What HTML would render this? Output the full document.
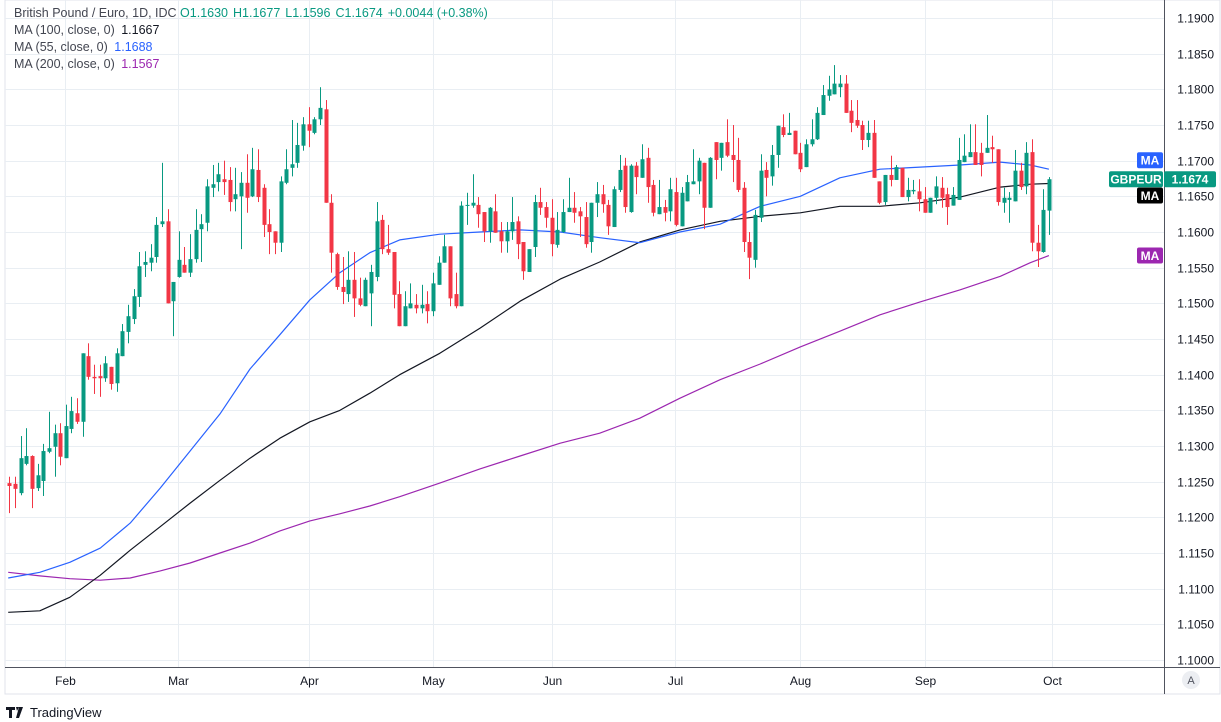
<!DOCTYPE html>
<html><head><meta charset="utf-8"><style>
html,body{margin:0;padding:0;background:#fff;width:1221px;height:722px;overflow:hidden;font-family:"Liberation Sans",sans-serif}
</style></head><body>
<svg id="chart" width="1221" height="722" xmlns="http://www.w3.org/2000/svg" font-family="Liberation Sans, sans-serif">
<rect x="5" y="0" width="1215" height="694" fill="#fff" stroke="#e0e3eb"/>
<g id="grid"></g>
<defs><clipPath id="plotClip"><rect x="5" y="0" width="1159" height="667"/></clipPath></defs>
<g id="mas" clip-path="url(#plotClip)"></g>
<g id="candles" clip-path="url(#plotClip)"></g>
<line x1="1164.5" y1="0" x2="1164.5" y2="694" stroke="#50535e"/>
<line x1="5" y1="667.5" x2="1220" y2="667.5" stroke="#50535e"/>
<g id="yaxis"></g>
<g id="xaxis"></g>
<g font-size="12.5">
<text x="14" y="17" fill="#434651">British Pound / Euro, 1D, IDC <tspan fill="#089981">O1.1630</tspan><tspan dx="5" fill="#089981">H1.1677</tspan><tspan dx="5" fill="#089981">L1.1596</tspan><tspan dx="5" fill="#089981">C1.1674</tspan><tspan dx="5" fill="#089981">+0.0044 (+0.38%)</tspan></text>
<text x="14" y="34" fill="#434651">MA (100, close, 0) <tspan dx="3" fill="#131722">1.1667</tspan></text>
<text x="14" y="51" fill="#434651">MA (55, close, 0) <tspan dx="3" fill="#2962ff">1.1688</tspan></text>
<text x="14" y="68" fill="#434651">MA (200, close, 0) <tspan dx="3" fill="#9c27b0">1.1567</tspan></text>
</g>
<g id="labels" font-size="12" font-weight="bold"></g>
<circle cx="1191" cy="680" r="9" fill="#eceef2"/>
<text x="1191" y="684" font-size="11" fill="#50535e" text-anchor="middle">A</text>
<g>
<path d="M6 707h9v3h-3v8h-3v-8h-3z M16 707h3l-2 4z M19 707h4l-4 11h-3z" fill="#131722"/>
<text x="30" y="717" font-size="13" fill="#131722">TradingView</text>
</g>
</svg>
<script>
const opens=[1.1248,1.1247,1.1234,1.1275,1.1286,1.1241,1.1251,1.1292,1.1299,1.1318,
1.1283,1.1324,1.1346,1.1334,1.1426,1.1397,1.1398,1.1395,1.1411,1.1388,
1.1426,1.1460,1.1478,1.1509,1.1554,1.1557,1.1565,1.1611,1.1615,1.1503,
1.1537,1.1554,1.1543,1.1562,1.1604,1.1613,1.1662,1.1670,1.1674,1.1673,
1.1646,1.1650,1.1669,1.1650,1.1687,1.1662,1.1611,1.1601,1.1585,1.1669,
1.1690,1.1697,1.1721,1.1751,1.1739,1.1758,1.1772,1.1641,1.1569,1.1523,
1.1513,1.1533,1.1507,1.1496,1.1514,1.1537,1.1617,1.1576,1.1572,1.1513,
1.1468,1.1493,1.1498,1.1493,1.1499,1.1489,1.1526,1.1557,1.1580,1.1513,
1.1496,1.1637,1.1637,1.1638,1.1628,1.1601,1.1629,1.1601,1.1587,1.1601,
1.1615,1.1586,1.1544,1.1579,1.1642,1.1635,1.1620,1.1582,1.1600,1.1628,
1.1634,1.1629,1.1621,1.1586,1.1641,1.1653,1.1638,1.1607,1.1659,1.1693,
1.1628,1.1693,1.1676,1.1704,1.1666,1.1625,1.1635,1.1629,1.1656,1.1608,
1.1643,1.1667,1.1671,1.1697,1.1634,1.1726,1.1704,1.1726,1.1708,1.1701,
1.1662,1.1586,1.1561,1.1620,1.1687,1.1678,1.1708,1.1747,1.1736,1.1742,
1.1711,1.1691,1.1723,1.1730,1.1764,1.1791,1.1793,1.1803,1.1808,1.1770,
1.1757,1.1750,1.1729,1.1739,1.1671,1.1642,1.1680,1.1673,1.1690,1.1649,
1.1657,1.1657,1.1646,1.1627,1.1648,1.1662,1.1653,1.1637,1.1645,1.1698,
1.1705,1.1712,1.1711,1.1711,1.1719,1.1716,1.1641,1.1645,1.1643,1.1686,
1.1664,1.1712,1.1585,1.1572,1.1630];
const highs=[1.1257,1.1257,1.1314,1.1325,1.1287,1.1275,1.1303,1.1348,1.1330,1.1332,
1.1358,1.1369,1.1367,1.1430,1.1444,1.1414,1.1414,1.1426,1.1411,1.1437,
1.1471,1.1498,1.1520,1.1572,1.1573,1.1583,1.1621,1.1697,1.1632,1.1530,
1.1601,1.1579,1.1597,1.1632,1.1625,1.1674,1.1694,1.1697,1.1700,1.1691,
1.1690,1.1684,1.1709,1.1718,1.1716,1.1667,1.1632,1.1601,1.1678,1.1716,
1.1757,1.1753,1.1761,1.1775,1.1761,1.1803,1.1785,1.1653,1.1571,1.1565,
1.1573,1.1572,1.1536,1.1536,1.1554,1.1642,1.1624,1.1610,1.1572,1.1531,
1.1517,1.1528,1.1513,1.1526,1.1517,1.1543,1.1566,1.1596,1.1580,1.1543,
1.1643,1.1655,1.1681,1.1649,1.1628,1.1635,1.1653,1.1614,1.1614,1.1649,
1.1622,1.1586,1.1576,1.1652,1.1662,1.1642,1.1646,1.1628,1.1646,1.1676,
1.1656,1.1635,1.1642,1.1641,1.1670,1.1666,1.1645,1.1664,1.1708,1.1704,
1.1695,1.1698,1.1723,1.1718,1.1673,1.1673,1.1645,1.1676,1.1676,1.1663,
1.1680,1.1716,1.1704,1.1697,1.1705,1.1726,1.1725,1.1758,1.1750,1.1732,
1.1670,1.1600,1.1631,1.1709,1.1698,1.1722,1.1749,1.1765,1.1767,1.1742,
1.1725,1.1730,1.1758,1.1775,1.1806,1.1819,1.1834,1.1820,1.1820,1.1785,
1.1785,1.1756,1.1756,1.1757,1.1671,1.1680,1.1707,1.1694,1.1690,1.1676,
1.1673,1.1674,1.1663,1.1648,1.1678,1.1677,1.1662,1.1663,1.1732,1.1737,
1.1751,1.1751,1.1725,1.1764,1.1735,1.1716,1.1662,1.1656,1.1715,1.1697,
1.1726,1.1730,1.1610,1.1660,1.1677];
const lows=[1.1206,1.1213,1.1231,1.1273,1.1213,1.1237,1.1230,1.1290,1.1257,1.1273,
1.1283,1.1318,1.1331,1.1313,1.1393,1.1373,1.1369,1.1390,1.1379,1.1376,
1.1426,1.1444,1.1471,1.1495,1.1537,1.1545,1.1557,1.1607,1.1500,1.1454,
1.1536,1.1543,1.1537,1.1557,1.1558,1.1601,1.1649,1.1657,1.1652,1.1629,
1.1629,1.1576,1.1627,1.1649,1.1642,1.1593,1.1569,1.1569,1.1572,1.1667,
1.1678,1.1690,1.1714,1.1719,1.1737,1.1750,1.1641,1.1543,1.1519,1.1499,
1.1502,1.1481,1.1496,1.1496,1.1468,1.1531,1.1569,1.1568,1.1493,1.1468,
1.1468,1.1493,1.1486,1.1486,1.1472,1.1482,1.1526,1.1557,1.1496,1.1493,
1.1496,1.1610,1.1634,1.1606,1.1586,1.1585,1.1599,1.1571,1.1571,1.1589,
1.1562,1.1533,1.1544,1.1565,1.1624,1.1606,1.1566,1.1578,1.1599,1.1628,
1.1613,1.1593,1.1578,1.1571,1.1621,1.1627,1.1596,1.1607,1.1656,1.1627,
1.1627,1.1653,1.1676,1.1641,1.1622,1.1625,1.1615,1.1615,1.1608,1.1608,
1.1643,1.1667,1.1653,1.1604,1.1634,1.1674,1.1686,1.1705,1.1670,1.1656,
1.1572,1.1534,1.1550,1.1614,1.1650,1.1665,1.1690,1.1733,1.1736,1.1709,
1.1684,1.1691,1.1720,1.1729,1.1764,1.1784,1.1793,1.1789,1.1767,1.1740,
1.1746,1.1715,1.1719,1.1676,1.1639,1.1638,1.1664,1.1673,1.1649,1.1643,
1.1653,1.1629,1.1627,1.1627,1.1639,1.1634,1.1610,1.1637,1.1645,1.1698,
1.1705,1.1694,1.1678,1.1711,1.1697,1.1637,1.1627,1.1613,1.1643,1.1659,
1.1653,1.1573,1.1551,1.1571,1.1596];
const closes=[1.1244,1.1240,1.1283,1.1286,1.1240,1.1259,1.1293,1.1297,1.1318,1.1285,
1.1328,1.1349,1.1334,1.1430,1.1397,1.1395,1.1395,1.1416,1.1387,1.1430,
1.1461,1.1482,1.1510,1.1552,1.1558,1.1564,1.1610,1.1615,1.1500,1.1530,
1.1561,1.1543,1.1562,1.1603,1.1611,1.1664,1.1667,1.1681,1.1670,1.1642,
1.1653,1.1669,1.1648,1.1688,1.1649,1.1610,1.1600,1.1585,1.1671,1.1688,
1.1695,1.1722,1.1751,1.1742,1.1758,1.1774,1.1641,1.1571,1.1523,1.1516,
1.1533,1.1507,1.1498,1.1533,1.1544,1.1615,1.1576,1.1571,1.1512,1.1468,
1.1496,1.1500,1.1493,1.1498,1.1489,1.1528,1.1557,1.1580,1.1507,1.1496,
1.1637,1.1638,1.1641,1.1625,1.1601,1.1634,1.1599,1.1587,1.1601,1.1614,
1.1583,1.1545,1.1576,1.1642,1.1634,1.1620,1.1583,1.1603,1.1628,1.1634,
1.1627,1.1622,1.1583,1.1641,1.1653,1.1639,1.1608,1.1660,1.1687,1.1635,
1.1693,1.1677,1.1702,1.1663,1.1627,1.1635,1.1627,1.1660,1.1610,1.1655,
1.1670,1.1671,1.1700,1.1634,1.1704,1.1701,1.1725,1.1707,1.1701,1.1659,
1.1586,1.1564,1.1624,1.1686,1.1676,1.1708,1.1749,1.1736,1.1739,1.1709,
1.1688,1.1723,1.1730,1.1767,1.1792,1.1800,1.1808,1.1808,1.1767,1.1753,
1.1749,1.1729,1.1739,1.1676,1.1641,1.1680,1.1673,1.1691,1.1649,1.1659,
1.1659,1.1646,1.1627,1.1648,1.1664,1.1648,1.1635,1.1652,1.1701,1.1707,
1.1712,1.1694,1.1694,1.1718,1.1716,1.1642,1.1648,1.1648,1.1686,1.1663,
1.1711,1.1585,1.1573,1.1631,1.1674];
const maBars=[-0.2,5.4,10.7,16.1,21.4,26.7,32,37.3,42.6,47.9,53.2,58.5,63.8,69.1,76.2,83.3,90.4,97.5,104.5,111.6,118.7,125.8,132.9,140,147,154.1,161.2,168.3,175.4,180.7,184];
const ma55=[1.1115,1.1123,1.1137,1.1157,1.1192,1.1241,1.1293,1.1345,1.1408,1.1456,1.1505,1.1543,1.1571,1.1589,1.1597,1.1600,1.1603,1.1600,1.1592,1.1585,1.1600,1.1611,1.1636,1.1650,1.1676,1.1688,1.1691,1.1694,1.1698,1.1694,1.1688];
const ma100=[1.1067,1.1069,1.1088,1.1119,1.1154,1.1187,1.1220,1.1252,1.1283,1.1311,1.1334,1.1350,1.1374,1.1400,1.1430,1.1465,1.1503,1.1534,1.1558,1.1586,1.1603,1.1615,1.1622,1.1627,1.1636,1.1636,1.1641,1.1649,1.1663,1.1667,1.1668];
const ma200=[1.1123,1.1118,1.1114,1.1112,1.1115,1.1125,1.1136,1.1150,1.1164,1.1181,1.1195,1.1205,1.1216,1.1229,1.1248,1.1268,1.1286,1.1304,1.1318,1.1339,1.1367,1.1393,1.1415,1.1439,1.1461,1.1484,1.1502,1.1519,1.1538,1.1557,1.1567];
const priceTicks=[1.19,1.185,1.18,1.175,1.17,1.165,1.16,1.155,1.15,1.145,1.14,1.135,1.13,1.125,1.12,1.115,1.11,1.105,1.10];
const monthLabels=["Feb","Mar","Apr","May","Jun","Jul","Aug","Sep","Oct"];
const monthBars=[9.9,29.9,53.1,75,96,117.9,140,162.1,184.5];

const NS="http://www.w3.org/2000/svg";
const yS=p=>18+(1.19-p)*7134;
const xS=i=>9.3+5.65*i;
function mk(tag,attrs,parent){const e=document.createElementNS(NS,tag);for(const k in attrs)e.setAttribute(k,attrs[k]);parent.appendChild(e);return e;}
const grid=document.getElementById('grid'),yaxis=document.getElementById('yaxis'),xaxis=document.getElementById('xaxis');
priceTicks.forEach(p=>{
  const y=Math.round(yS(p))+0.5;
  const l=mk('line',{x1:5,x2:1164,y1:y,y2:y,stroke:'#e9eef3'},grid);
  
  
  const t=mk('text',{x:1214,y:y+4,'font-size':12,fill:'#131722','text-anchor':'end'},yaxis);
  t.textContent=p.toFixed(4);
  
  
});
monthLabels.forEach((m,k)=>{
  const x=Math.round(xS(monthBars[k]))+0.5;
  const l=mk('line',{x1:x,x2:x,y1:0,y2:667,stroke:'#e9eef3'},grid);
  
  
  const t=mk('text',{x:x,y:685,'font-size':12,fill:'#131722','text-anchor':'middle'},xaxis);
  t.textContent=m;
  
  
});
const mas=document.getElementById('mas');
[[ma200,'#9c27b0','ma200-line'],[ma100,'#131722','ma100-line'],[ma55,'#2962ff','ma55-line']].forEach(([arr,c,n])=>{
  const d=arr.map((v,k)=>(k?'L':'M')+xS(maBars[k]).toFixed(1)+' '+yS(v).toFixed(1)).join(' ');
  const p=mk('path',{d:d,fill:'none',stroke:c,'stroke-width':1.2,'stroke-linejoin':'round'},mas);
  
  
});
const cg=document.getElementById('candles');
closes.forEach((c,i)=>{
  const o=opens[i],up=c>=o,col=up?'#089981':'#f23645';
  const x=Math.round(xS(i));
  const g=mk('g',{},cg);
  
  
  mk('rect',{x:x,y:yS(highs[i]),width:1,height:Math.max(1,yS(lows[i])-yS(highs[i])),fill:col},g);
  const top=yS(Math.max(o,c)),bot=yS(Math.min(o,c));
  mk('rect',{x:x-1.5,y:top,width:4,height:Math.max(1,bot-top),fill:col},g);
});
const lab=document.getElementById('labels');
function tag(y,w,x,fill,txt,name){
  const g=mk('g',{},lab);
  
  
  mk('rect',{x:x,y:y-8,width:w,height:16,rx:2,fill:fill},g);
  const t=mk('text',{x:x+w/2,y:y+4.5,fill:'#fff','text-anchor':'middle'},g);
  t.textContent=txt;
}
tag(yS(ma55[ma55.length-1])-9,26,1137,'#2962ff','MA','ma55-axis-tag');
tag(yS(closes[closes.length-1]),54,1109,'#089981','GBPEUR','symbol-tag');
tag(yS(closes[closes.length-1]),52,1164,'#089981',closes[closes.length-1].toFixed(4),'last-price-tag');
tag(yS(ma100[ma100.length-1])+12,26,1137,'#000','MA','ma100-axis-tag');
tag(yS(ma200[ma200.length-1]),26,1137,'#9c27b0','MA','ma200-axis-tag');
</script>
</body></html>
